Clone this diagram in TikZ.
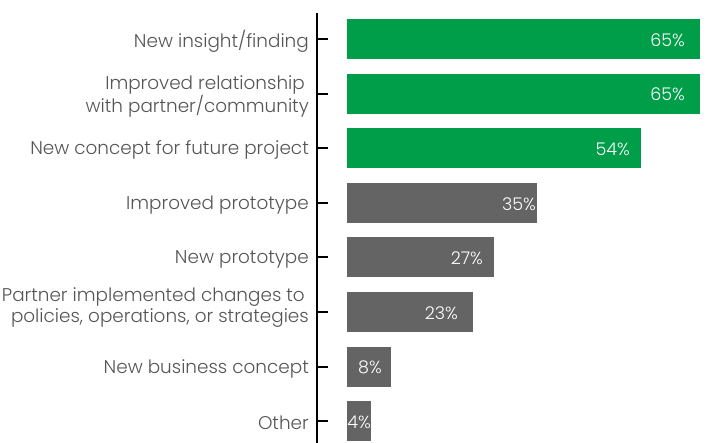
\documentclass[tikz,border=0pt]{standalone}
\usepackage{fontspec}
\IfFontExistsTF{Poppins Light}{\setmainfont{Poppins Light}}{\setmainfont{Poppins}}
\definecolor{barg}{HTML}{009E49}
\definecolor{bark}{HTML}{646464}
\definecolor{labk}{HTML}{555555}
\tikzset{
  greenbar/.style={fill=barg, draw=none},
  greybar/.style={fill=bark, draw=none},
  catlabel/.style={anchor=east, align=right, text=labk, font=\fontsize{18.4}{21}\selectfont, inner sep=0pt},
  pctlabel/.style={anchor=east, text=white, font=\fontsize{17.5}{20}\selectfont, inner sep=0pt},
  axisline/.style={line width=2pt, black},
}
\begin{document}
\begin{tikzpicture}[x=1pt, y=-1pt]
\useasboundingbox (0,0) rectangle (707,443);
% axis
\coordinate (axtop) at (317,13);
\coordinate (axbot) at (317,443);
\draw[axisline] (axtop) -- (axbot);
% bars
\foreach \i/\e/\st in {0/700/greenbar,1/700/greenbar,2/641/greenbar,3/537/greybar,4/494/greybar,5/473/greybar,6/391/greybar,7/371/greybar}{
  \pgfmathsetmacro{\yt}{19+54.6*\i}
  \pgfmathsetmacro{\yc}{39+54.6*\i}
  \path[\st] (347,\yt) rectangle (\e,\yt+40);
  \coordinate (tickA\i) at (317,\yc);
  \coordinate (tickB\i) at (328,\yc);
  \draw[axisline] (tickA\i) -- (tickB\i);
}
% category labels
\node[catlabel] (l0) at (309,41) {New insight/finding};
\node[catlabel] (l1) at (309,96) {Improved relationship\rule{4pt}{0pt}\\with partner/community};
\node[catlabel] (l2) at (309,150.2) {New concept for future project};
\node[catlabel] (l3) at (309,204.8) {Improved prototype};
\node[catlabel] (l4) at (309,259.4) {New prototype};
\node[catlabel] (l5) at (309,308) {Partner implemented changes to\rule{4pt}{0pt}\\policies, operations, or strategies};
\node[catlabel] (l6) at (309,368.6) {New business concept};
\node[catlabel] (l7) at (309,423.2) {Other};
% percentages
\node[pctlabel] (p0) at (685,40) {65\%};
\node[pctlabel] (p1) at (685,94.6) {65\%};
\node[pctlabel] (p2) at (630,149.2) {54\%};
\node[pctlabel] (p3) at (536,203.8) {35\%};
\node[pctlabel] (p4) at (483,258.4) {27\%};
\node[pctlabel] (p5) at (458,313) {23\%};
\node[pctlabel] (p6) at (382,367.6) {8\%};
\node[pctlabel] (p7) at (371,422.2) {4\%};
\end{tikzpicture}
\end{document}
